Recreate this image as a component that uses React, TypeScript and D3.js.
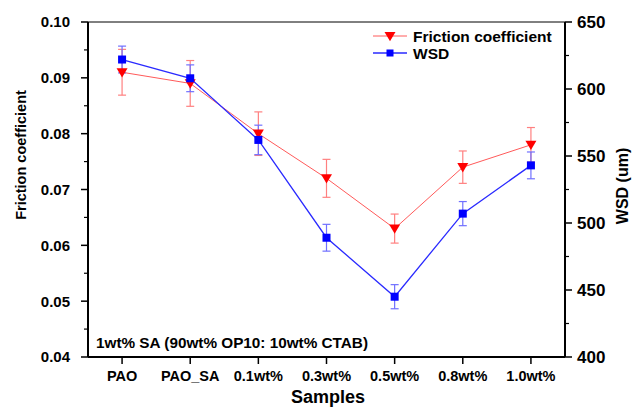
import React from 'react';
import * as d3 from 'd3';

// data
const samples = ['PAO', 'PAO_SA', '0.1wt%', '0.3wt%', '0.5wt%', '0.8wt%', '1.0wt%'];
const friction = [0.091, 0.089, 0.08, 0.072, 0.063, 0.074, 0.078];
const frictionErr = [0.0041, 0.0041, 0.0039, 0.0034, 0.0026, 0.0029, 0.0031];
const wsd = [622, 608, 562, 489, 445, 507, 543];
const wsdErr = [10, 10, 11, 10, 9, 9, 10];
const leftTicks = [0.04, 0.05, 0.06, 0.07, 0.08, 0.09, 0.1];
const rightTicks = [400, 450, 500, 550, 600, 650];
const note = '1wt% SA (90wt% OP10: 10wt% CTAB)';

const W = 632;
const H = 407;
const margin = { top: 22, right: 67, bottom: 50, left: 88 };
const FONT = 'Arial, "Liberation Sans", sans-serif';
const RED = '#ff0000';
const BLUE = '#0000ff';

export default function App() {
  const innerRight = W - margin.right;
  const innerBottom = H - margin.bottom;

  const x = d3.scalePoint<string>().domain(samples).range([margin.left, innerRight]).padding(0.5);
  const yL = d3.scaleLinear().domain([0.04, 0.1]).range([innerBottom, margin.top]);
  const yR = d3.scaleLinear().domain([400, 650]).range([innerBottom, margin.top]);

  const lineL = d3
    .line<number>()
    .x((_, i) => x(samples[i]) as number)
    .y((d) => yL(d));
  const lineR = d3
    .line<number>()
    .x((_, i) => x(samples[i]) as number)
    .y((d) => yR(d));

  const leftMinor = d3.range(0.045, 0.1, 0.01);
  const rightMinor = d3.range(425, 650, 50);

  const tri = (cx: number, cy: number, s: number) =>
    `M${cx - s},${cy - s * 0.75}L${cx + s},${cy - s * 0.75}L${cx},${cy + s * 0.95}Z`;

  const errBar = (cx: number, y1: number, y2: number, color: string, key: string) => (
    <g key={key} stroke={color} strokeWidth={1.2}>
      <line x1={cx} x2={cx} y1={y1} y2={y2} />
      <line x1={cx - 4} x2={cx + 4} y1={y1} y2={y1} />
      <line x1={cx - 4} x2={cx + 4} y1={y2} y2={y2} />
    </g>
  );

  return (
    <svg width={W} height={H} style={{ position: 'absolute', left: 0, top: 0, background: '#fff' }} fontFamily={FONT}>
      {/* frame */}
      <line x1={margin.left} x2={innerRight} y1={margin.top} y2={margin.top} stroke="#000" strokeWidth={1} />
      <line x1={margin.left} x2={innerRight} y1={innerBottom} y2={innerBottom} stroke="#000" strokeWidth={2} />
      <line x1={margin.left} x2={margin.left} y1={margin.top} y2={innerBottom} stroke="#000" strokeWidth={2} />
      <line x1={innerRight} x2={innerRight} y1={margin.top} y2={innerBottom} stroke="#000" strokeWidth={2} />

      {/* left axis */}
      {leftTicks.map((t) => (
        <g key={'l' + t}>
          <line x1={margin.left - 7} x2={margin.left} y1={yL(t)} y2={yL(t)} stroke="#000" strokeWidth={1.5} />
          <text x={margin.left - 18} y={yL(t)} dy="0.36em" textAnchor="end" fontSize={15} fontWeight="bold">
            {t.toFixed(2)}
          </text>
        </g>
      ))}
      {leftMinor.map((t) => (
        <line key={'lm' + t} x1={margin.left - 4} x2={margin.left} y1={yL(t)} y2={yL(t)} stroke="#000" strokeWidth={1.2} />
      ))}
      <text
        transform={`translate(21,155) rotate(-90)`}
        textAnchor="middle"
        dy="0.36em"
        fontSize={14.5}
        fontWeight="bold"
      >
        Friction coefficient
      </text>

      {/* right axis */}
      {rightTicks.map((t) => (
        <g key={'r' + t}>
          <line x1={innerRight} x2={innerRight + 7} y1={yR(t)} y2={yR(t)} stroke="#000" strokeWidth={1.5} />
          <text x={innerRight + 12} y={yR(t)} dy="0.36em" textAnchor="start" fontSize={17} fontWeight="bold">
            {t}
          </text>
        </g>
      ))}
      {rightMinor.map((t) => (
        <line key={'rm' + t} x1={innerRight} x2={innerRight + 4} y1={yR(t)} y2={yR(t)} stroke="#000" strokeWidth={1.2} />
      ))}
      <text
        transform={`translate(622,186) rotate(-90)`}
        textAnchor="middle"
        dy="0.36em"
        fontSize={16}
        fontWeight="bold"
      >
        WSD (um)
      </text>

      {/* x axis */}
      {samples.map((s) => (
        <g key={'x' + s}>
          <line x1={x(s)} x2={x(s)} y1={innerBottom} y2={innerBottom + 7} stroke="#000" strokeWidth={1.5} />
          <text x={x(s)} y={381} textAnchor="middle" fontSize={14.5} fontWeight="bold">
            {s}
          </text>
        </g>
      ))}
      <text x={328} y={403} textAnchor="middle" fontSize={18} fontWeight="bold">
        Samples
      </text>

      {/* note */}
      <text x={96} y={348} fontSize={15.3} fontWeight="bold">
        {note}
      </text>

      {/* series lines */}
      <path d={lineL(friction) ?? ''} fill="none" stroke="#ff5a5a" strokeWidth={1} />
      <path d={lineR(wsd) ?? ''} fill="none" stroke="#2a2aff" strokeWidth={1.3} />

      {/* error bars */}
      {friction.map((v, i) =>
        errBar(x(samples[i]) as number, yL(v + frictionErr[i]), yL(v - frictionErr[i]), '#ff8080', 'fe' + i)
      )}
      {wsd.map((v, i) => errBar(x(samples[i]) as number, yR(v + wsdErr[i]), yR(v - wsdErr[i]), '#7070ff', 'we' + i))}

      {/* markers */}
      {friction.map((v, i) => (
        <path key={'fm' + i} d={tri(x(samples[i]) as number, yL(v), 5.5)} fill={RED} />
      ))}
      {wsd.map((v, i) => (
        <rect key={'wm' + i} x={(x(samples[i]) as number) - 4} y={yR(v) - 4} width={8} height={8} fill={BLUE} />
      ))}

      {/* legend */}
      <g>
        <line x1={373} x2={407} y1={36} y2={36} stroke="#ff5a5a" strokeWidth={1} />
        <path d={tri(390, 36, 5.5)} fill={RED} />
        <text x={413} y={36} dy="0.36em" fontSize={15.5} fontWeight="bold">
          Friction coefficient
        </text>
        <line x1={373} x2={407} y1={53} y2={53} stroke="#2a2aff" strokeWidth={1.3} />
        <rect x={386.5} y={49.5} width={7} height={7} fill={BLUE} />
        <text x={413} y={53} dy="0.36em" fontSize={15.5} fontWeight="bold">
          WSD
        </text>
      </g>
    </svg>
  );
}
